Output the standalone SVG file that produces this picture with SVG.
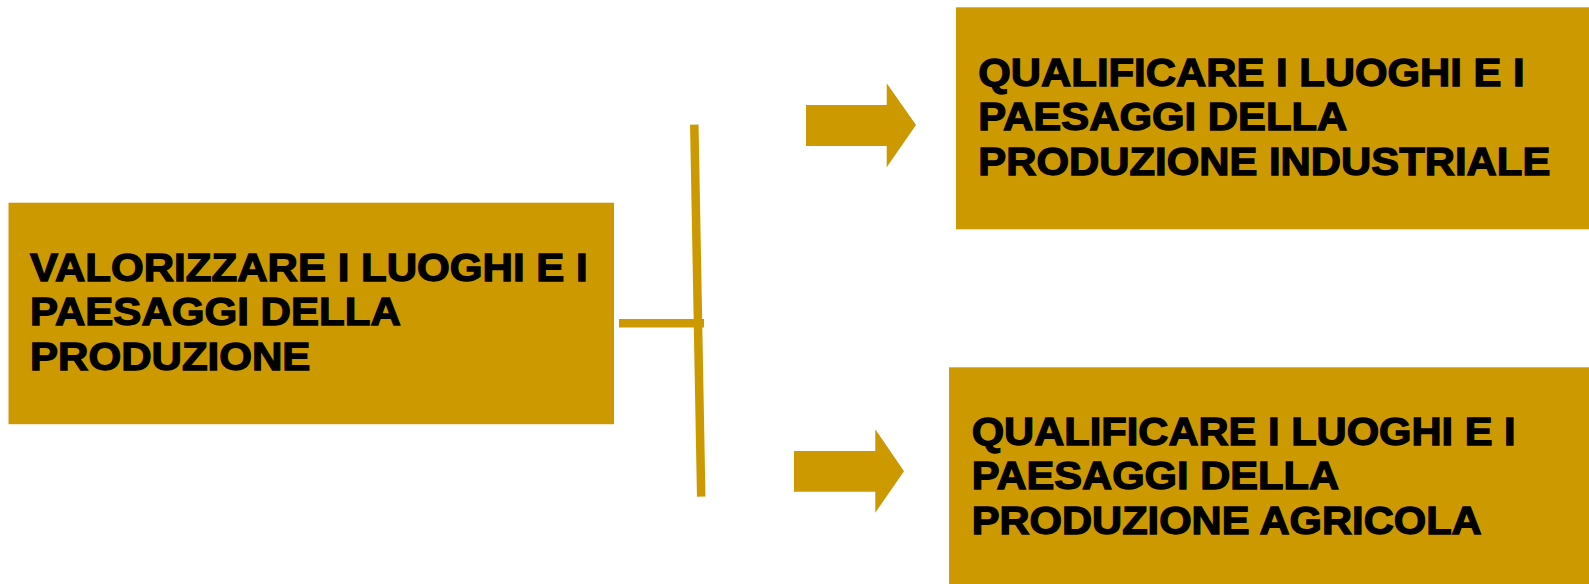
<svg xmlns="http://www.w3.org/2000/svg" width="1589" height="584" viewBox="0 0 1589 584">
<style>
.box{fill:#CC9900;}
.lbl{font-family:"Liberation Sans",Arial,sans-serif;font-weight:bold;font-size:39.5px;fill:#000;stroke:#000;stroke-width:1.3;}
.conn{stroke:#CC9900;stroke-width:8.5;fill:none;}
.arrow{fill:#CC9900;}
</style>
<rect width="1589" height="584" fill="#fff"/>
<g id="node-main">
<rect class="box" x="8.5" y="202.7" width="605.5" height="221.5"/>
<g transform="translate(30,0) scale(1.065,1)">
<text class="lbl" x="0" y="281">VALORIZZARE I LUOGHI E I</text>
<text class="lbl" x="0" y="325.5">PAESAGGI DELLA</text>
<text class="lbl" x="0" y="370">PRODUZIONE</text>
</g>
</g>
<g id="node-industriale">
<rect class="box" x="956" y="7.3" width="633" height="222"/>
<g transform="translate(978.3,0) scale(1.06,1)">
<text class="lbl" x="0" y="86">QUALIFICARE I LUOGHI E I</text>
<text class="lbl" x="0" y="130.5">PAESAGGI DELLA</text>
<text class="lbl" x="0" y="175">PRODUZIONE INDUSTRIALE</text>
</g>
</g>
<g id="node-agricola">
<rect class="box" x="949" y="367.3" width="640" height="216.7"/>
<g transform="translate(971.7,0) scale(1.055,1)">
<text class="lbl" x="0" y="445">QUALIFICARE I LUOGHI E I</text>
<text class="lbl" x="0" y="489.5">PAESAGGI DELLA</text>
<text class="lbl" x="0" y="534">PRODUZIONE AGRICOLA</text>
</g>
</g>
<g id="connectors">
<line class="conn" x1="619" y1="323.3" x2="704" y2="323.3"/>
<line class="conn" x1="694.3" y1="124.6" x2="701.2" y2="496.6"/>
<polygon class="arrow" points="806,105 886.7,105 886.7,83.3 916,125 886.7,167.3 886.7,146 806,146"/>
<polygon class="arrow" points="794,451 875.3,451 875.3,429.3 904,471.3 875.3,512.7 875.3,491.7 794,491.7"/>
</g>
</svg>
